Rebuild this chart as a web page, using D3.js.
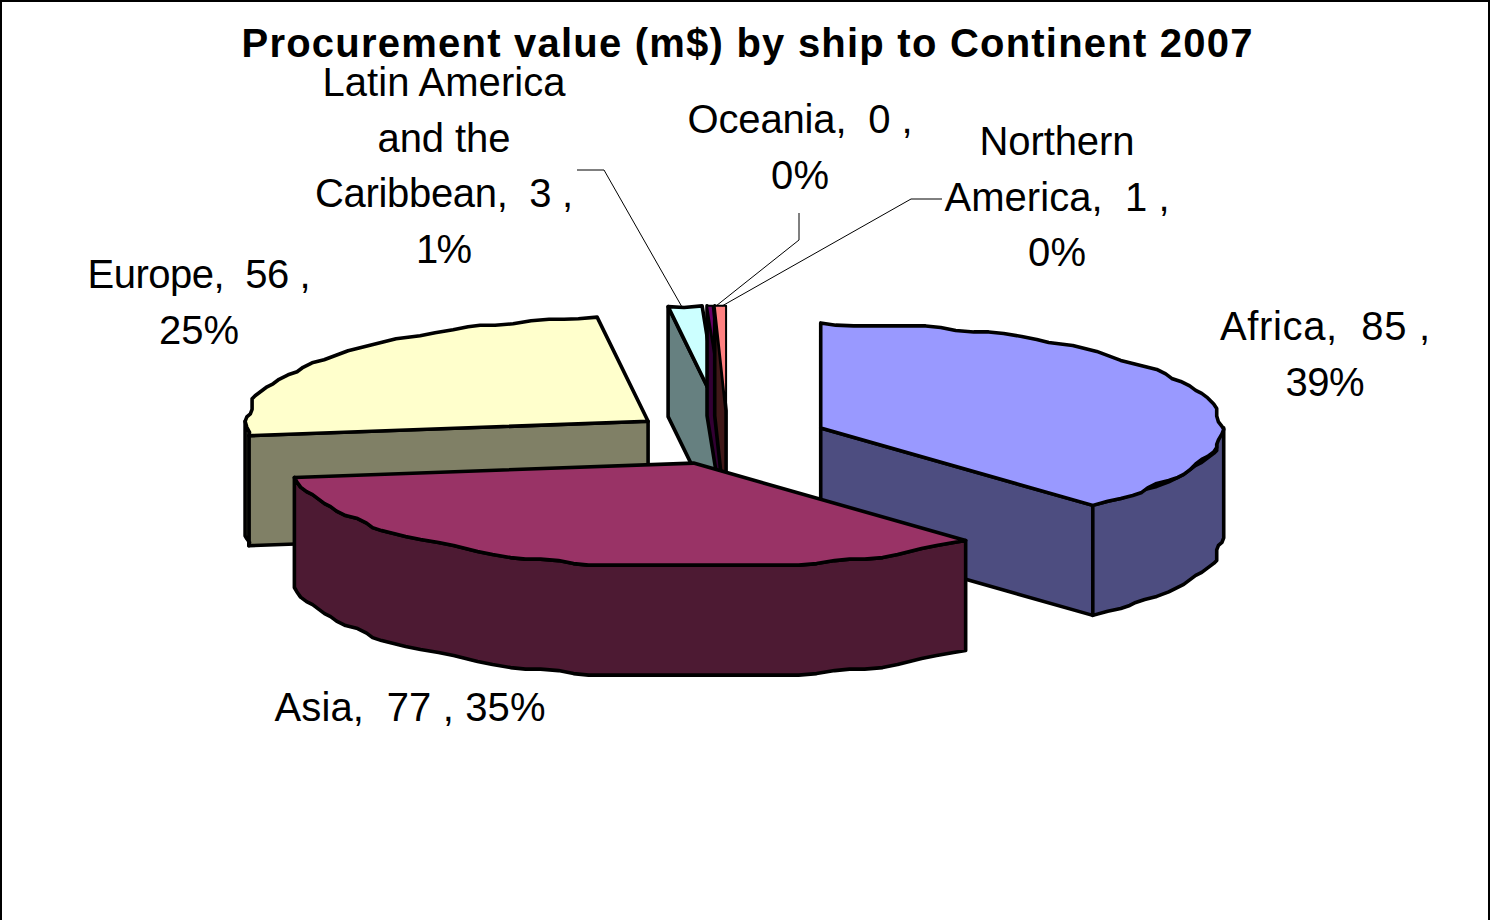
<!DOCTYPE html>
<html><head><meta charset="utf-8">
<script src="https://cdn.jsdelivr.net/npm/d3@7"></script>
<style>html,body{margin:0;padding:0;background:#fff;overflow:hidden}svg{display:block}
text{font-family:"Liberation Sans",Arial,sans-serif;fill:#000;white-space:pre}</style></head>
<body><svg id="c" width="1490" height="920"></svg>
<script>
const continents = ["Africa","Asia","Europe","Latin America and the Caribbean","Oceania","Northern America"];
const values = [85, 77, 56, 3, 0.49, 1];
const topColors = ["#9999FF","#993366","#FFFFCC","#CCFFFF","#660066","#FF8080"];
const sideColors = ["#4D4D80","#4D1A33","#808066","#668080","#330033","#401818"];
const labelLines = [
  ["Africa,  85 ,","39%"],
  ["Asia,  77 , 35%"],
  ["Europe,  56 ,","25%"],
  ["Latin America","and the","Caribbean,  3 ,","1%"],
  ["Oceania,  0 ,","0%"],
  ["Northern","America,  1 ,","0%"]
];
const titleText = "Procurement value (m$) by ship to Continent 2007";

// layout
const W = 1490, H = 920;
const cx = 727.5, cy = 437.7, rx = 403, ry = 105, depth = 110;
const explodeX = 100, explodeY = 27;
const drawOrder = [2,3,4,5,0,1];
const labelPos = [[1325,340],[410,721],[199,288],[444,96],[800,133],[1057,155]];
const lineWidths = [[210,79],[271],[223,80],[243,133,258,56],[225,58],[155,225,58]];
const leaders = [
  [[577,170],[604,170],[682,307]],
  [[799,213],[799,240],[716,306]],
  [[942,199],[911,199],[722,306]]
];

const svg = d3.select("#c");
const sx = d3.scaleLinear().domain([-1,1]).range([-rx,rx]);
const sy = d3.scaleLinear().domain([-1,1]).range([-ry,ry]);
const arcs = d3.pie().sort(null).value(d=>d)(values);
const line = d3.line();

// The source renderer snaps its ellipse to a coarse grid: that gives the wavy edge.
const snap = (v,g)=>Math.round(v/g)*g;
function rim(a0,a1){
  const raw=[[sx(Math.sin(a0)),sy(-Math.cos(a0))]];
  const n=Math.max(1,Math.ceil((a1-a0)/(2.5*Math.PI/180)));
  for(let i=1;i<n;i++){
    const a=a0+(a1-a0)*i/n;
    raw.push([Math.max(-rx,Math.min(rx,snap(sx(Math.sin(a)),12))),snap(sy(-Math.cos(a)),6)]);
  }
  raw.push([sx(Math.sin(a1)),sy(-Math.cos(a1))]);
  return raw.map((p,i)=>{
    if(i===0||i===raw.length-1) return p;
    return [(raw[i-1][0]+2*p[0]+raw[i+1][0])/4,(raw[i-1][1]+2*p[1]+raw[i+1][1])/4];
  });
}

svg.append("rect").attr("x",1).attr("y",1).attr("width",W-2).attr("height",H+10)
  .attr("fill","#fff").attr("stroke","#000").attr("stroke-width",2);

drawOrder.forEach(i=>{
  const d=arcs[i], mid=(d.startAngle+d.endAngle)/2;
  const ax=cx+explodeX*Math.sin(mid), ay=cy-explodeY*Math.cos(mid);
  const g=svg.append("g").attr("transform",`translate(${ax},${ay})`)
    .attr("stroke","#000").attr("stroke-width",3.6).attr("stroke-linejoin","round");
  const radial=a=>{
    const p=[sx(Math.sin(a)),sy(-Math.cos(a))];
    return [[0,0],p,[p[0],p[1]+depth],[0,depth]];
  };
  if(Math.sin(d.startAngle)<-1e-6) g.append("path").attr("d",line(radial(d.startAngle))+"Z").attr("fill",sideColors[i]);
  if(Math.sin(d.endAngle)>1e-6) g.append("path").attr("d",line(radial(d.endAngle))+"Z").attr("fill",sideColors[i]);
  const f0=Math.max(d.startAngle,Math.PI/2), f1=Math.min(d.endAngle,3*Math.PI/2);
  if(f1>f0){
    const r=rim(f0,f1);
    const wall=r.concat(r.slice().reverse().map(p=>[p[0],p[1]+depth]));
    g.append("path").attr("d",line(wall)+"Z").attr("fill",sideColors[i]);
  }
  const top=[[0,0]].concat(rim(d.startAngle,d.endAngle));
  g.append("path").attr("d",line(top)+"Z").attr("fill",topColors[i])
    .attr("stroke-width",values[i]<2?2:3.6);
});

svg.append("g").selectAll("path").data(leaders).join("path")
  .attr("d",d=>line(d)).attr("fill","none").attr("stroke","#000").attr("stroke-width",1);

svg.append("text").attr("x",747).attr("y",57).attr("text-anchor","middle")
  .attr("font-size",40).attr("font-weight","bold")
  .attr("textLength",1011).attr("lengthAdjust","spacing").text(titleText);

labelLines.forEach((ls,i)=>{
  const t=svg.append("text").attr("text-anchor","middle").attr("font-size",40);
  ls.forEach((s,j)=>t.append("tspan").attr("x",labelPos[i][0]).attr("y",labelPos[i][1]+j*55.6)
    .attr("textLength",lineWidths[i][j]).attr("lengthAdjust","spacing").text(s));
});
</script></body></html>
